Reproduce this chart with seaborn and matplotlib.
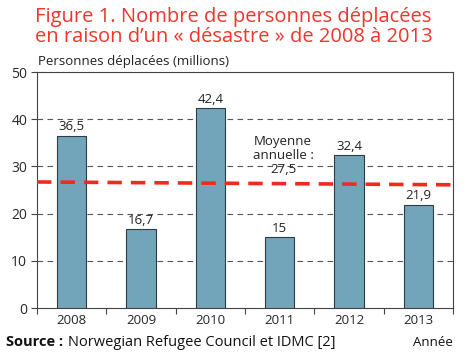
import pandas as pd
import seaborn as sns
import matplotlib.pyplot as plt

years = ['2008', '2009', '2010', '2011', '2012', '2013']
displaced = [36.5, 16.7, 42.4, 15, 32.4, 21.9]
value_labels = ['36,5', '16,7', '42,4', '15', '32,4', '21,9']
# mean line as drawn (slightly tilted in the original)
mean_line_y = [26.7, 26.1]
mean_label = 'Moyenne\nannuelle :\n27,5'

df = pd.DataFrame({'year': years, 'displaced': displaced})

sns.set_style('white')
plt.rcParams['font.family'] = ['Open Sans', 'DejaVu Sans']

fig = plt.figure(figsize=(4.67, 3.54), dpi=100)
ax = fig.add_axes([37 / 467, 1 - 308 / 354, 416 / 467, 236 / 354])

sns.barplot(data=df, x='year', y='displaced', color='#73a5ba', saturation=1,
            width=0.42, edgecolor='#2e3a44', linewidth=0.8, ax=ax, zorder=3)

# bar value labels
for i, (v, lab) in enumerate(zip(displaced, value_labels)):
    ax.text(i, v + 0.5, lab, ha='center', va='bottom', fontsize=9.5, color='#222222', zorder=4)

ax.set_ylim(0, 50)
ax.set_xlim(-0.5, 5.5)
ax.set_yticks([0, 10, 20, 30, 40, 50])
for y in [10, 20, 30, 40]:
    ax.axhline(y, color='#555555', linestyle=(0, (5, 4)), linewidth=0.8, zorder=1)

ax.plot([-0.5, 5.5], mean_line_y, color='#f02a1e', linestyle=(0, (4, 2.5)), linewidth=2.6, zorder=5)
ax.text(3.05, 28.0, mean_label, ha='center', va='bottom', fontsize=9.5, color='#222222',
        linespacing=1.1, zorder=4)

# frame and ticks
for s in ax.spines.values():
    s.set_color('#444444')
    s.set_linewidth(0.8)
ax.set_xticks([0, 1, 2, 3, 4, 5])
ax.set_xticks([-0.5, 0.5, 1.5, 2.5, 3.5, 4.5, 5.5], minor=True)
ax.tick_params(axis='x', which='major', length=0, labelsize=9.5, pad=4)
ax.tick_params(axis='x', which='minor', length=4, width=0.8, color='#444444', direction='out', bottom=True)
ax.tick_params(axis='y', length=4, width=0.8, color='#444444', direction='out', left=True, labelsize=10, pad=3)
ax.set_xlabel('')
ax.set_ylabel('')

fig.text(0.5, 1 - 27 / 354, 'Figure 1. Nombre de personnes déplacées\nen raison d\u2019un « désastre » de 2008 à 2013',
         ha='center', va='center', fontsize=14.5, fontweight='medium', color='#f0352b', linespacing=1.0)
fig.text(38 / 467, 1 - 62 / 354, 'Personnes déplacées (millions)', ha='left', va='center',
         fontsize=9.5, color='#222222')
fig.text(6 / 467, 1 - 342 / 354, 'Source :', ha='left', va='center', fontsize=10.5,
         fontweight='bold', color='#111111')
fig.text(68 / 467, 1 - 342 / 354, 'Norwegian Refugee Council et IDMC [2]', ha='left', va='center',
         fontsize=10.5, color='#111111')
fig.text(453 / 467, 1 - 342 / 354, 'Année', ha='right', va='center', fontsize=9.5, color='#111111')

fig.savefig('out.png', dpi=100)
